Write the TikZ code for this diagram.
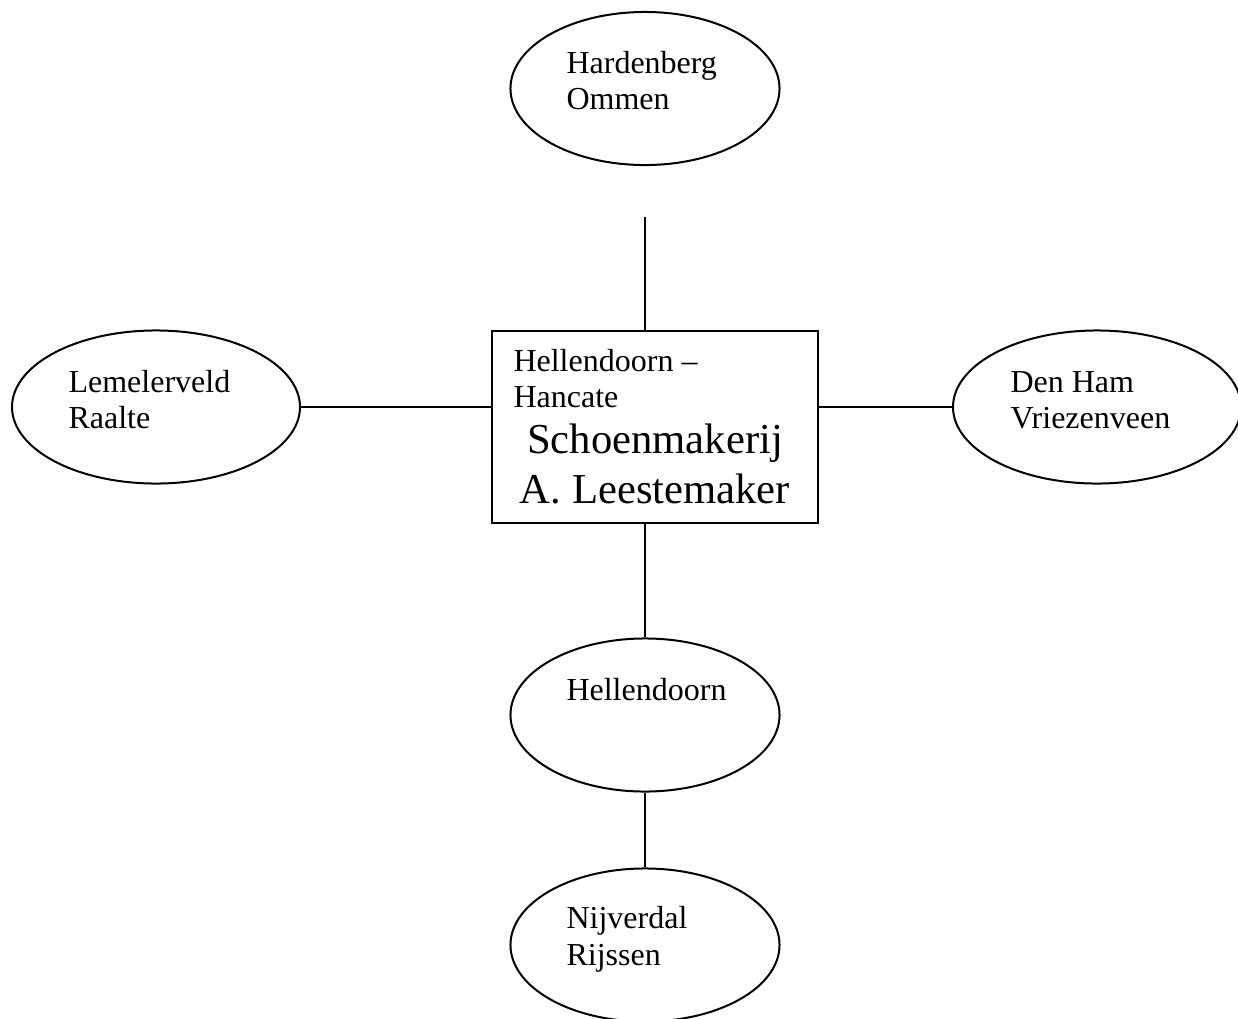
\documentclass[tikz,border=0pt]{standalone}
\usepackage{fontspec}
\setmainfont{Liberation Serif}
\usetikzlibrary{shapes.geometric}

\tikzset{
  town/.style={draw, ellipse, line width=0.75pt, minimum width=100.9pt, minimum height=57.4pt, inner sep=0pt},
  wide town/.style={town, minimum width=108pt},
  shop/.style={draw, rectangle, line width=0.75pt, minimum width=122.6pt, minimum height=72pt, inner sep=0pt},
  place/.style={anchor=base west, inner sep=0pt, font=\fontsize{12}{13.6}\selectfont},
  big/.style={anchor=base, inner sep=0pt, font=\fontsize{16}{18.6}\selectfont},
  link/.style={line width=0.75pt}
}

\begin{document}
\begin{tikzpicture}[x=0.375pt, y=-0.375pt]
    \clip (0,0) rectangle (1238,1019);
    \useasboundingbox (0,0) rectangle (1238,1019);

    % centre
    \node[shop] (shop) at (655,427) {};
    \node[place] (shopa) at (513,371) {Hellendoorn --};
    \node[place] (shopb) at (513,407) {Hancate};
    \node[big] (shopc) at (655,453) {Schoenmakerij};
    \node[big] (shopd) at (655,503) {A. Leestemaker};

    % towns
    \node[town] (hard) at (645,88.5) {};
    \node[place] (harda) at (566,73) {Hardenberg};
    \node[place] (hardb) at (566,109) {Ommen};

    \node[wide town] (lem) at (156,407) {};
    \node[place] (lema) at (68,392) {Lemelerveld};
    \node[place] (lemb) at (68,428) {Raalte};

    \node[wide town] (ham) at (1097,407) {};
    \node[place] (hama) at (1010,392) {Den Ham};
    \node[place] (hamb) at (1010,428) {Vriezenveen};

    \node[town] (hd) at (645,715) {};
    \node[place] (hda) at (566,700) {Hellendoorn};

    \node[town] (nij) at (645,945) {};
    \node[place] (nija) at (566,928) {Nijverdal};
    \node[place] (nijb) at (566,965) {Rijssen};

    % links
    \coordinate (topend) at (645,217);
    \draw[link] (topend) -- (topend |- shop.north);
    \draw[link] (lem.east) -- (lem.east -| shop.west);
    \draw[link] (shop.east |- ham.west) -- (ham.west);
    \draw[link] (hd.north |- shop.south) -- (hd.north);
    \draw[link] (hd.south) -- (nij.north);

\end{tikzpicture}
\end{document}
